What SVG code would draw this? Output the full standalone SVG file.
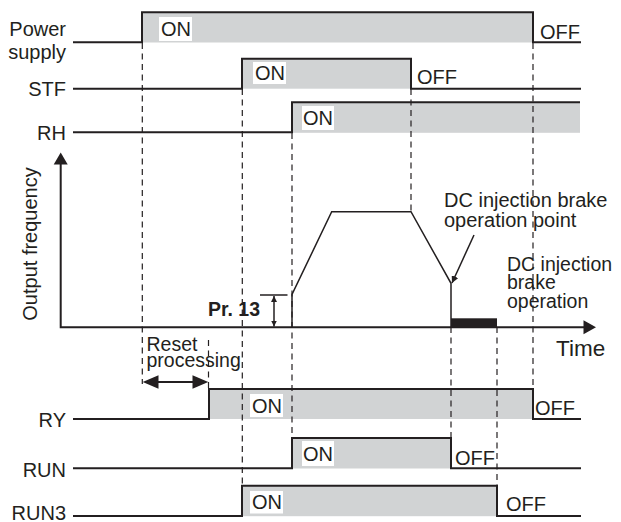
<svg xmlns="http://www.w3.org/2000/svg" width="621" height="522" viewBox="0 0 621 522">
<defs>
<style>
text{font-family:"Liberation Sans",Arial,sans-serif;font-size:20px;fill:#231f20}
.bold{font-weight:bold;font-size:19.5px}
.sig{fill:none;stroke:#231f20;stroke-width:2}
.band{fill:#d1d3d4}
.box{fill:#fff}
.dash{fill:none;stroke:#231f20;stroke-width:1.2;stroke-dasharray:6 4.5}
.thin{fill:none;stroke:#231f20;stroke-width:1.5}
.lbl{text-anchor:end}
.tight{font-size:19.5px}
</style>
<marker id="ah" viewBox="0 0 10 10" refX="10" refY="5" markerWidth="7" markerHeight="7" orient="auto" markerUnits="userSpaceOnUse">
<path d="M0,0 L10,5 L0,10 z" fill="#231f20"/>
</marker>
<marker id="sa" viewBox="0 0 10 10" refX="10" refY="5" markerWidth="6" markerHeight="6" orient="auto-start-reverse" markerUnits="userSpaceOnUse">
<path d="M0,0 L10,5 L0,10 z" fill="#231f20"/>
</marker>
</defs>

<g id="power">
<rect class="band" x="142" y="12" width="391" height="30.5"/>
<path class="sig" d="M73,42.3 H142 V12.3 H533 V42.3 H581"/>
<rect class="box" x="159" y="17" width="33" height="24"/>
<text x="161" y="36">ON</text>
<text x="540" y="38.5">OFF</text>
<text class="lbl" x="66" y="35.5">Power</text>
<text class="lbl" x="66" y="59">supply</text>
</g>

<g id="stf">
<rect class="band" x="242" y="58.7" width="169" height="30"/>
<path class="sig" d="M73,88.7 H242 V58.7 H411 V88.7 H581"/>
<rect class="box" x="253" y="62" width="33" height="22"/>
<text x="255" y="80">ON</text>
<text x="417" y="84">OFF</text>
<text class="lbl" x="66" y="95.5">STF</text>
</g>

<g id="rh">
<rect class="band" x="292" y="102.3" width="288" height="30.5"/>
<path class="sig" d="M73,132.3 H292 V102.3 H580"/>
<rect class="box" x="302" y="106" width="32" height="24"/>
<text x="303" y="125">ON</text>
<text class="lbl" x="66" y="140">RH</text>
</g>

<g id="ry">
<rect class="band" x="209" y="389" width="324" height="30"/>
<path class="sig" d="M73,419 H209 V389 H533 V419 H581"/>
<rect class="box" x="250" y="394" width="33" height="23"/>
<text x="252" y="413">ON</text>
<text x="535" y="414.5">OFF</text>
<text class="lbl" x="66" y="427">RY</text>
</g>

<g id="run">
<rect class="band" x="292" y="438" width="159" height="30.5"/>
<path class="sig" d="M73,468.3 H292 V438 H451 V468.3 H581"/>
<rect class="box" x="302" y="441" width="32" height="25"/>
<text x="303" y="461">ON</text>
<text x="455" y="464.5">OFF</text>
<text class="lbl" x="66" y="477">RUN</text>
</g>

<g id="run3">
<rect class="band" x="242" y="485.7" width="255" height="30.5"/>
<path class="sig" d="M73,516 H242 V485.7 H497 V516 H581"/>
<rect class="box" x="250" y="491" width="33" height="22.5"/>
<text x="252" y="509">ON</text>
<text x="506" y="511">OFF</text>
<text class="lbl" x="66" y="520">RUN3</text>
</g>

<g id="graph">
<path class="sig" d="M60.7,164 V327.3 H584"/>
<path d="M60.7,152.5 L67.7,164.5 L53.7,164.5 z" fill="#231f20"/>
<path d="M596,327.3 L583.5,320.3 L583.5,334.3 z" fill="#231f20"/>
<text transform="translate(36.5,244) rotate(-90)" text-anchor="middle">Output frequency</text>
<path class="thin" d="M292,327.3 V294.5 L331.7,211.7 H411 L451,283.3 V327.3" stroke-width="1.8"/>
<rect x="451" y="318.3" width="46" height="9" fill="#231f20"/>
<text x="556" y="356" style="font-size:22.5px">Time</text>
</g>

<g id="pr13">
<line class="thin" x1="260" y1="295" x2="287.5" y2="295" stroke-width="1.2"/>
<line class="thin" x1="274" y1="296" x2="274" y2="326.5" stroke-width="1.2" marker-start="url(#sa)" marker-end="url(#sa)"/>
<text class="bold" x="208" y="315.7">Pr. 13</text>
</g>

<g id="dc-point">
<text x="444" y="207.3">DC injection brake</text>
<text x="444" y="226.5">operation point</text>
</g>

<g id="dc-operation">
<text class="tight" x="507" y="270.5">DC injection</text>
<text class="tight" x="507" y="289.3">brake</text>
<text class="tight" x="507" y="308">operation</text>
</g>

<g id="reset">
<text class="tight" x="146.5" y="351">Reset</text>
<text class="tight" x="146.5" y="367">processing</text>
</g>

<g id="connectors">
<line class="dash" x1="142.3" y1="43" x2="142.3" y2="384"/>
<line class="dash" x1="208.5" y1="340" x2="208.5" y2="389"/>
<line class="dash" x1="242.3" y1="89" x2="242.3" y2="486"/>
<line class="dash" x1="292" y1="133" x2="292" y2="438"/>
<line class="dash" x1="411" y1="89" x2="411" y2="211"/>
<line class="dash" x1="451" y1="327" x2="451" y2="438"/>
<line class="dash" x1="497" y1="327" x2="497" y2="486"/>
<line class="dash" x1="533" y1="43" x2="533" y2="389"/>
<line class="thin" x1="474" y1="235" x2="452" y2="283" stroke-width="1.2" marker-end="url(#ah)"/>
<line class="sig" x1="156" y1="382" x2="195" y2="382"/>
<path d="M142.7,382 L158.5,375.3 L158.5,388.7 z" fill="#231f20"/>
<path d="M208.3,382 L192.5,375.3 L192.5,388.7 z" fill="#231f20"/>
</g>
</svg>
